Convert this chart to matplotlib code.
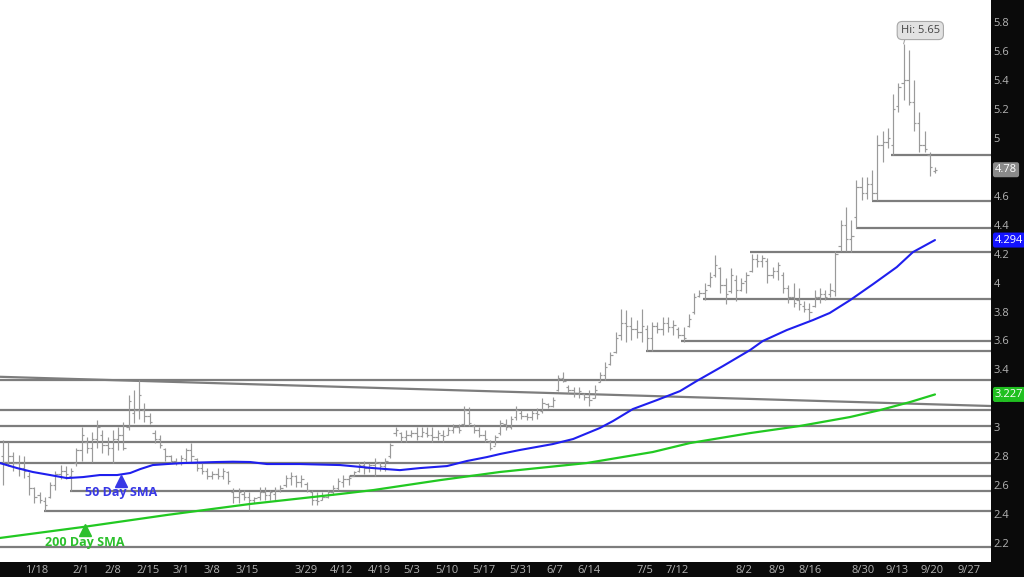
import matplotlib
matplotlib.use('Agg')
import matplotlib.pyplot as plt
from matplotlib.transforms import blended_transform_factory

plt.rcParams['font.family'] = ['Open Sans', 'DejaVu Sans']

# ---------------- data (daily OHLC) ----------------
high = [2.91, 2.90, 2.83, 2.81, 2.80, 2.69, 2.59, 2.55, 2.52, 2.62,
        2.70, 2.74, 2.73, 2.72, 2.86, 3.00, 2.93, 2.97, 3.05, 2.98,
        2.93, 2.98, 3.00, 3.04, 3.22, 3.26, 3.33, 3.17, 3.10, 2.98,
        2.95, 2.86, 2.81, 2.79, 2.81, 2.86, 2.89, 2.79, 2.75, 2.72,
        2.70, 2.72, 2.72, 2.70, 2.58, 2.58, 2.57, 2.55, 2.52, 2.59,
        2.59, 2.57, 2.59, 2.60, 2.67, 2.69, 2.67, 2.67, 2.62, 2.57,
        2.55, 2.55, 2.57, 2.60, 2.65, 2.67, 2.67, 2.70, 2.76, 2.77,
        2.75, 2.79, 2.76, 2.79, 2.89, 3.00, 2.97, 2.98, 2.98, 3.00,
        3.00, 3.00, 3.00, 2.98, 2.98, 3.00, 3.02, 3.02, 3.15, 3.14,
        3.02, 3.00, 2.98, 2.91, 2.95, 3.05, 3.06, 3.08, 3.15, 3.12,
        3.10, 3.12, 3.13, 3.20, 3.17, 3.21, 3.36, 3.38, 3.29, 3.28,
        3.28, 3.24, 3.26, 3.29, 3.38, 3.45, 3.52, 3.66, 3.82, 3.81,
        3.76, 3.74, 3.82, 3.71, 3.73, 3.73, 3.76, 3.76, 3.74, 3.69,
        3.69, 3.78, 3.93, 3.95, 4.00, 4.07, 4.19, 4.11, 4.03, 4.10,
        4.05, 4.03, 4.07, 4.20, 4.20, 4.19, 4.17, 4.11, 4.14, 4.07,
        3.98, 4.00, 3.96, 3.87, 3.86, 3.95, 3.96, 3.95, 4.00, 4.22,
        4.43, 4.52, 4.43, 4.71, 4.73, 4.73, 4.78, 5.02, 5.05, 5.07,
        5.30, 5.38, 5.65, 5.61, 5.40, 5.18, 5.05, 4.90, 4.80]
low = [2.60, 2.73, 2.70, 2.66, 2.65, 2.53, 2.48, 2.48, 2.42, 2.51,
       2.57, 2.64, 2.64, 2.56, 2.73, 2.77, 2.82, 2.76, 2.86, 2.82,
       2.81, 2.75, 2.84, 2.84, 2.98, 3.03, 3.06, 3.04, 3.02, 2.89,
       2.86, 2.77, 2.75, 2.74, 2.74, 2.76, 2.76, 2.70, 2.68, 2.64,
       2.64, 2.64, 2.64, 2.61, 2.48, 2.48, 2.50, 2.43, 2.48, 2.50,
       2.50, 2.50, 2.50, 2.55, 2.59, 2.60, 2.59, 2.59, 2.55, 2.46,
       2.46, 2.50, 2.51, 2.53, 2.57, 2.59, 2.60, 2.66, 2.69, 2.68,
       2.69, 2.66, 2.70, 2.70, 2.79, 2.94, 2.90, 2.90, 2.93, 2.91,
       2.93, 2.93, 2.90, 2.91, 2.90, 2.95, 2.96, 2.96, 3.01, 3.01,
       2.96, 2.93, 2.90, 2.84, 2.88, 2.95, 2.98, 2.99, 3.05, 3.06,
       3.05, 3.05, 3.06, 3.10, 3.13, 3.14, 3.25, 3.31, 3.24, 3.21,
       3.20, 3.19, 3.15, 3.20, 3.31, 3.33, 3.43, 3.51, 3.60, 3.59,
       3.60, 3.62, 3.59, 3.53, 3.53, 3.65, 3.64, 3.66, 3.64, 3.62,
       3.59, 3.69, 3.78, 3.90, 3.88, 3.97, 4.04, 3.93, 3.85, 3.93,
       3.87, 3.94, 3.93, 4.07, 4.11, 4.11, 4.00, 4.03, 4.02, 3.93,
       3.86, 3.83, 3.81, 3.80, 3.74, 3.83, 3.86, 3.88, 3.90, 3.91,
       4.22, 4.22, 4.21, 4.38, 4.57, 4.58, 4.57, 4.57, 4.83, 4.93,
       4.88, 5.18, 5.26, 5.23, 5.05, 4.90, 4.90, 4.74, 4.76]
open_ = [2.80, 2.76, 2.80, 2.75, 2.72, 2.66, 2.58, 2.53, 2.49, 2.52,
         2.60, 2.68, 2.70, 2.66, 2.75, 2.84, 2.90, 2.86, 2.92, 2.95,
         2.88, 2.86, 2.92, 2.95, 3.00, 3.10, 3.12, 3.12, 3.08, 2.96,
         2.92, 2.85, 2.80, 2.77, 2.76, 2.78, 2.84, 2.78, 2.72, 2.70,
         2.66, 2.68, 2.66, 2.69, 2.55, 2.52, 2.54, 2.52, 2.50, 2.52,
         2.55, 2.53, 2.54, 2.57, 2.60, 2.65, 2.66, 2.62, 2.61, 2.55,
         2.50, 2.50, 2.52, 2.55, 2.58, 2.62, 2.64, 2.66, 2.70, 2.74,
         2.72, 2.74, 2.75, 2.73, 2.80, 2.96, 2.96, 2.93, 2.95, 2.96,
         2.94, 2.96, 2.95, 2.93, 2.95, 2.95, 2.98, 3.00, 3.02, 3.10,
         3.01, 2.98, 2.95, 2.90, 2.87, 2.96, 3.02, 3.00, 3.07, 3.10,
         3.08, 3.07, 3.10, 3.11, 3.16, 3.15, 3.26, 3.34, 3.28, 3.26,
         3.23, 3.23, 3.21, 3.20, 3.31, 3.36, 3.44, 3.52, 3.64, 3.72,
         3.70, 3.68, 3.66, 3.68, 3.62, 3.70, 3.68, 3.72, 3.69, 3.68,
         3.64, 3.70, 3.80, 3.91, 3.93, 3.98, 4.05, 4.10, 3.98, 3.94,
         4.02, 3.95, 4.01, 4.08, 4.16, 4.15, 4.15, 4.05, 4.08, 4.05,
         3.96, 3.90, 3.88, 3.84, 3.82, 3.84, 3.90, 3.92, 3.92, 3.94,
         4.25, 4.40, 4.30, 4.45, 4.66, 4.62, 4.68, 4.62, 4.95, 4.97,
         4.95, 5.22, 5.38, 5.40, 5.25, 5.10, 4.95, 4.88, 4.77]
close = [2.76, 2.80, 2.75, 2.72, 2.70, 2.58, 2.52, 2.50, 2.46, 2.60,
         2.68, 2.70, 2.68, 2.70, 2.84, 2.95, 2.86, 2.92, 3.00, 2.88,
         2.86, 2.92, 2.95, 2.86, 3.18, 3.12, 3.22, 3.08, 3.04, 2.92,
         2.88, 2.80, 2.77, 2.76, 2.79, 2.84, 2.80, 2.72, 2.70, 2.66,
         2.68, 2.66, 2.70, 2.63, 2.52, 2.55, 2.52, 2.50, 2.51, 2.55,
         2.53, 2.55, 2.57, 2.58, 2.65, 2.66, 2.62, 2.64, 2.57, 2.50,
         2.49, 2.52, 2.55, 2.58, 2.63, 2.64, 2.65, 2.69, 2.74, 2.72,
         2.74, 2.76, 2.73, 2.77, 2.88, 2.98, 2.93, 2.95, 2.96, 2.94,
         2.97, 2.95, 2.93, 2.96, 2.94, 2.98, 3.00, 2.98, 3.12, 3.03,
         2.98, 2.95, 2.92, 2.86, 2.93, 3.03, 3.00, 3.06, 3.12, 3.08,
         3.07, 3.10, 3.09, 3.17, 3.15, 3.19, 3.34, 3.32, 3.26, 3.23,
         3.25, 3.21, 3.19, 3.26, 3.36, 3.42, 3.50, 3.62, 3.72, 3.70,
         3.68, 3.66, 3.70, 3.62, 3.70, 3.68, 3.72, 3.69, 3.71, 3.64,
         3.62, 3.75, 3.90, 3.93, 3.95, 4.04, 4.12, 3.98, 3.92, 4.05,
         3.95, 4.00, 4.05, 4.16, 4.15, 4.17, 4.05, 4.08, 4.12, 3.96,
         3.90, 3.86, 3.85, 3.82, 3.80, 3.90, 3.92, 3.90, 3.95, 4.20,
         4.40, 4.30, 4.32, 4.66, 4.62, 4.68, 4.62, 4.95, 4.97, 5.00,
         5.20, 5.35, 5.40, 5.25, 5.10, 4.95, 4.92, 4.80, 4.78]

# moving averages (bar index, value)
sma50_idx = [-0.6, 2.7, 5.7, 9.0, 12.2, 15.3, 18.5, 21.8, 24.3, 26.2, 28.6, 31.3,
             34.4, 40.9, 43.9, 47.2, 50.4, 56.7, 64.4, 70.7, 75.8, 79.6, 84.8,
             88.6, 92.4, 94.9, 98.7, 105.0, 108.9, 114.0, 116.5, 120.3, 124.9,
             129.3, 132.5, 137.5, 142.7, 145.1, 149.7, 154.7, 157.9, 161.8,
             166.2, 170.7, 173.8, 178.0]
sma50_val = [2.753, 2.718, 2.691, 2.670, 2.649, 2.656, 2.670, 2.670, 2.684, 2.711,
             2.739, 2.746, 2.753, 2.760, 2.762, 2.760, 2.746, 2.746, 2.739, 2.718,
             2.704, 2.718, 2.732, 2.767, 2.794, 2.815, 2.843, 2.884, 2.919, 2.995,
             3.043, 3.126, 3.188, 3.250, 3.320, 3.423, 3.534, 3.596, 3.672, 3.741,
             3.790, 3.879, 3.990, 4.107, 4.211, 4.294]
sma200_idx = [-0.6, 15.3, 31.3, 47.2, 64.4, 70.7, 83.5, 94.9, 111.5, 124.1,
              131.2, 142.7, 152.2, 161.8, 167.5, 173.2, 178.0]
sma200_val = [2.235, 2.311, 2.394, 2.470, 2.539, 2.566, 2.635, 2.691, 2.753, 2.829,
              2.891, 2.960, 3.009, 3.071, 3.119, 3.174, 3.227]

# horizontal support / resistance levels and the bar they start from
levels = [4.88, 4.563, 4.377, 4.21, 3.886, 3.596, 3.527, 3.326, 3.119, 3.009,
          2.898, 2.753, 2.663, 2.559, 2.421, 2.172]
level_start = [169.6, 166.0, 162.9, 142.7, 133.7, 129.5, 122.8, -1, -1, -1,
               -1, -1, 66.3, 12.8, 7.8, -1]
trend_x = [-0.6, 188.7]
trend_y = [3.349, 3.147]

x_labels = ['1/18', '2/1', '2/8', '2/15', '3/1', '3/8', '3/15', '3/29', '4/12',
            '4/19', '5/3', '5/10', '5/17', '5/31', '6/7', '6/14', '7/5', '7/12',
            '8/2', '8/9', '8/16', '8/30', '9/13', '9/20', '9/27']
x_label_pos = [6.5, 14.9, 21.0, 27.7, 34.0, 39.9, 46.6, 57.9, 64.7, 71.8, 78.1,
               84.8, 91.9, 98.9, 105.4, 111.9, 122.6, 128.7, 141.5, 147.8, 154.1,
               164.2, 170.7, 177.4, 184.5]
# 4.8 is hidden behind the last-price tag in the reference
y_ticks = [2.2, 2.4, 2.6, 2.8, 3.0, 3.2, 3.4, 3.6, 3.8, 4.0, 4.2, 4.4, 4.6,
           5.0, 5.2, 5.4, 5.6, 5.8]
last_price = 4.78
sma50_last = 4.294
sma200_last = 3.227
hi_value = 5.65

# ---------------- drawing ----------------
W, H = 1024, 577
fig = plt.figure(figsize=(W / 100, H / 100), dpi=100, facecolor='#0a0a0a')
ax = fig.add_axes([0, 15 / H, 991 / W, 562 / H])
ax.set_facecolor('white')
xmin, xmax = -0.57, 188.7
ax.set_xlim(xmin, xmax)
ax.set_ylim(2.069, 5.953)
for s in ax.spines.values():
    s.set_visible(False)

line_col = '#7d7d7d'
for lv, st in zip(levels, level_start):
    ax.hlines(lv, max(st, xmin - 1), xmax + 1, color=line_col, lw=1.6, zorder=1)
ax.plot(trend_x, trend_y, color=line_col, lw=1.6, zorder=1)

n = len(high)
idx = list(range(n))
bar_col = '#9a9a9a'
ax.vlines(idx, low, high, color=bar_col, lw=0.85, zorder=2)
ax.hlines(open_, [i - 0.45 for i in idx], idx, color=bar_col, lw=0.85, zorder=2)
ax.hlines(close, idx, [i + 0.45 for i in idx], color=bar_col, lw=0.85, zorder=2)

blue = '#1f1fee'
green = '#22c922'
ax.plot(sma50_idx, sma50_val, color=blue, lw=1.5, zorder=3, solid_capstyle='round')
ax.plot(sma200_idx, sma200_val, color=green, lw=1.6, zorder=3, solid_capstyle='round')

# SMA labels
ax.plot([22.5], [2.628], marker='^', color='#3838e6', ms=8, zorder=4)
ax.text(22.5, 2.552, '50 Day SMA', color='#3838e6', fontsize=9, fontweight='bold',
        ha='center', va='center', zorder=4)
ax.plot([15.7], [2.292], marker='^', color='#2cc02c', ms=8, zorder=4)
ax.text(15.7, 2.205, '200 Day SMA', color='#2cc02c', fontsize=9, fontweight='bold',
        ha='center', va='center', zorder=4)

# high callout
hi_i = high.index(max(high))
ax.annotate(f'Hi: {hi_value:.2f}', xy=(hi_i, hi_value), xytext=(hi_i + 3.2, 5.742),
            ha='center', va='center', fontsize=8, color='#444444', zorder=6,
            bbox=dict(boxstyle='round,pad=0.32,rounding_size=0.45', fc='#e2e2e2',
                      ec='#a8a8a8', lw=0.8),
            arrowprops=dict(arrowstyle='-', color='#a8a8a8', lw=0.8,
                            shrinkA=0, shrinkB=0, relpos=(0.13, 0.0)))

# axes ticks
ax.yaxis.tick_right()
ax.set_yticks(y_ticks)
ax.set_yticklabels([f'{v:g}' for v in y_ticks])
ax.tick_params(axis='y', length=0, pad=2, labelcolor='#b4b4b4', labelsize=8)
ax.set_xticks(x_label_pos)
ax.set_xticklabels(x_labels)
ax.tick_params(axis='x', length=0, pad=2, labelcolor='#b4b4b4', labelsize=8)

# price tags on the right axis
tr = blended_transform_factory(ax.transAxes, ax.transData)
for val, txt, fc in [(last_price, f'{last_price:.2f}', '#8a8a8a'),
                     (sma50_last, f'{sma50_last:.3f}', '#1414ff'),
                     (sma200_last, f'{sma200_last:.3f}', '#20c020')]:
    ax.text(1.004, val, txt, transform=tr, ha='left', va='center', fontsize=8,
            color='white', clip_on=False, zorder=10,
            bbox=dict(boxstyle='round,pad=0.18,rounding_size=0.2', fc=fc, ec='none'))

fig.savefig('out.png', dpi=100, facecolor=fig.get_facecolor())
